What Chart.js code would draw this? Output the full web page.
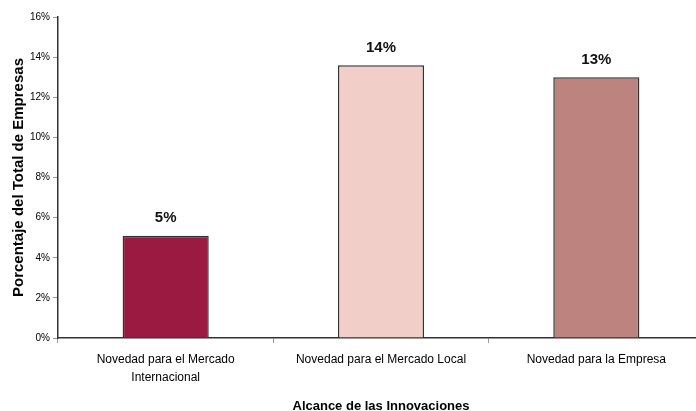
<!DOCTYPE html>
<html>
<head>
<meta charset="utf-8">
<script src="https://cdn.jsdelivr.net/npm/chart.js@4/dist/chart.umd.min.js"></script>
<style>
  html, body { margin: 0; padding: 0; background: #fff; overflow: hidden; width: 696px; height: 411px; }
</style>
</head>
<body>
<canvas id="bars" width="704" height="418"></canvas>
<script>
Chart.defaults.font.family = "'Liberation Sans', Arial, sans-serif";
Chart.defaults.color = '#000';

//data
const categories = [
    ['Novedad para el Mercado', 'Internacional'],
    'Novedad para el Mercado Local',
    'Novedad para la Empresa'
];
const values = [5.1, 13.6, 13.0];
const barLabels = ['5%', '14%', '13%'];
const barColors = ['#9a1a41', '#f2cec9', '#bd837e'];

//labels over bars
const topLabels = {
    id: 'topLabels',
    afterDatasetsDraw(chart) {
        const ctx = chart.ctx;
        const meta = chart.getDatasetMeta(0);
        ctx.save();
        ctx.font = "bold 15px 'Liberation Sans', Arial, sans-serif";
        ctx.fillStyle = '#111';
        ctx.textAlign = 'center';
        ctx.textBaseline = 'bottom';
        meta.data.forEach((bar, i) => {
            ctx.fillText(barLabels[i], bar.x, bar.y - 10);
        });
        ctx.restore();
    }
};

const data = {
    labels: categories,
    datasets: [{
        data: values,
        backgroundColor: barColors,
        borderColor: '#333',
        borderWidth: 1.5,
        barPercentage: 0.4,
        categoryPercentage: 1
    }]
};

const options = {
    responsive: false,
    animation: false,
    layout: { padding: { top: 17, left: 0, right: 0, bottom: 0 } },
    plugins: {
        legend: { display: false },
        tooltip: { enabled: false }
    },
    scales: {
        x: {
            grid: { display: true, offset: true, drawOnChartArea: false, tickLength: 5, color: '#999' },
            border: { color: '#333', width: 1.5 },
            ticks: { font: { size: 12, lineHeight: 1.5 }, padding: 8, maxRotation: 0, autoSkip: false },
            title: {
                display: true,
                text: 'Alcance de las Innovaciones',
                font: { size: 13, weight: 'bold' },
                padding: { top: 16, bottom: 4 }
            },
            afterFit: s => { s.height = 80; }
        },
        y: {
            min: 0,
            max: 16,
            grid: { display: true, drawOnChartArea: false, tickLength: 5, color: '#999' },
            border: { color: '#333', width: 1.5 },
            ticks: { stepSize: 2, font: { size: 10 }, padding: 3, callback: v => v + '%' },
            title: {
                display: true,
                text: 'Porcentaje del Total de Empresas',
                font: { size: 15, weight: 'bold' },
                padding: { top: 10, bottom: 0 }
            },
            afterFit: s => { s.width = 58; }
        }
    }
};

const chart = new Chart(document.getElementById('bars'), {
    type: 'bar',
    data: data,
    options,
    plugins: [topLabels]
});
</script>
</body>
</html>
